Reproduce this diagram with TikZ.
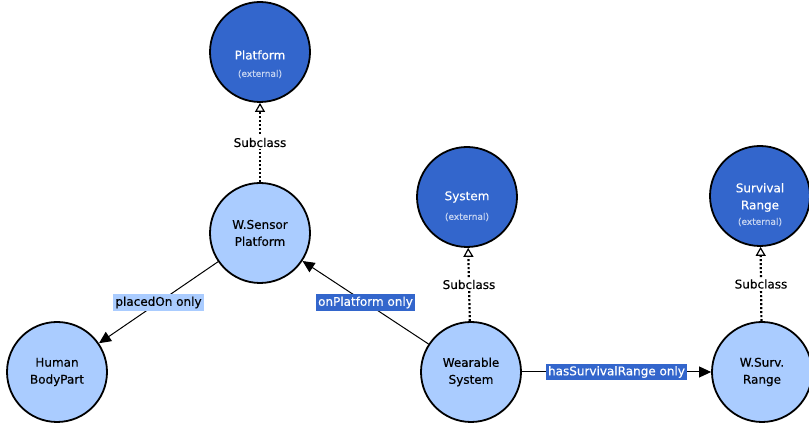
\documentclass[tikz,border=0pt]{standalone}
\usepackage{fontspec}
\setmainfont{DejaVu Sans}[FakeBold=0.35]
\usetikzlibrary{arrows.meta}
\definecolor{extblue}{HTML}{3366CC}
\definecolor{locblue}{HTML}{AACCFF}
\definecolor{notecol}{HTML}{C8D6F2}

\begin{document}
\begin{tikzpicture}[x=1pt,y=1pt,
  classnode/.style={circle, draw=black, line width=1.8pt, minimum size=100pt,
    inner sep=0pt, align=center, font=\fontsize{12}{17}\selectfont},
  extclass/.style={classnode, fill=extblue},
  localclass/.style={classnode, fill=locblue, text=black},
  extname/.style={font=\fontsize{12}{17}\selectfont, text=white, align=center, inner sep=0pt},
  extnote/.style={font=\fontsize{9}{10}\selectfont, text=notecol, inner sep=0pt},
  subclassof/.style={line width=2.2pt, dash pattern=on 2pt off 2pt,
    -{Triangle[open, length=9pt, width=10pt, line width=1.2pt]}},
  subtag/.style={fill=white, inner sep=1.5pt, font=\fontsize{12}{14}\selectfont, text=black},
  relation/.style={line width=1pt, -{Triangle[length=12pt, width=11pt]}},
  reltag/.style={inner xsep=2.5pt, inner ysep=2.5pt, font=\fontsize{12}{14}\selectfont},
  lighttag/.style={reltag, fill=locblue, text=black},
  darktag/.style={reltag, fill=extblue, text=white},
]
\useasboundingbox (0,0) rectangle (809,427);

% external classes
\node[extclass] (platform) at (260,375) {};
\node[extname] (platformname) at (260,372) {Platform};
\node[extnote] (platformnote) at (260,353) {(external)};

\node[extclass] (system) at (467,230) {};
\node[extname] (systemname) at (467,230) {System};
\node[extnote] (systemnote) at (467,210) {(external)};

\node[extclass] (survrange) at (760,231) {};
\node[extname] (survrangename) at (760,229.5) {Survival\\Range};
\node[extnote] (survrangenote) at (760,205) {(external)};

% local classes
\node[localclass] (sensor) at (260,194) {W.Sensor\\Platform};
\node[localclass] (human) at (57,55) {Human\\BodyPart};
\node[localclass] (wearable) at (471,55) {Wearable\\System};
\node[localclass] (wsurv) at (762,55) {W.Surv.\\Range};

% subclass links
\draw[subclassof] (sensor) -- node[subtag] (sub1) {Subclass} (platform);
\draw[subclassof] (wearable) -- node[subtag] (sub2) {Subclass} (system);
\draw[subclassof] (wsurv) -- node[subtag] (sub3) {Subclass} (survrange);

% object properties
\draw[relation] (sensor) -- node[lighttag] (rel1) {placedOn only} (human);
\draw[relation] (wearable) -- node[darktag] (rel2) {onPlatform only} (sensor);
\draw[relation] (wearable) -- node[darktag] (rel3) {hasSurvivalRange only} (wsurv);
\end{tikzpicture}
\end{document}
